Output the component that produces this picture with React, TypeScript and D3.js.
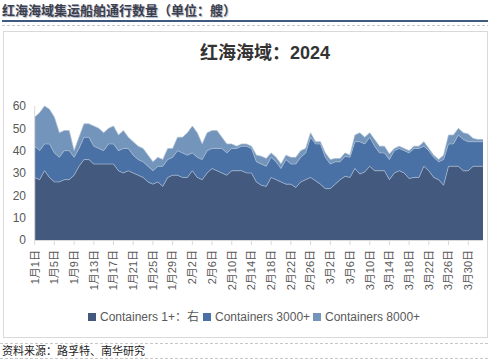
import React from "react";
import * as d3 from "d3";

const seriesNames = ["Containers 1+：右", "Containers 3000+", "Containers 8000+"];
const colors = ["#435a7e", "#4a71a5", "#7495bb"];

// Boundary levels (stacked totals)
const bottomLevel = [
  28, 27, 31, 28, 26, 26, 27, 27, 29, 33, 36, 36, 34, 34, 34, 34, 34, 31, 30, 31,
  30, 29, 28, 26, 25, 26, 24, 28, 29, 29, 28, 28, 31, 28, 27, 30, 32, 31, 30, 29,
  31, 31, 31, 30, 30, 26, 24.5, 24, 28, 27, 26, 25, 25, 23.5, 26, 27, 28, 26.5, 25,
  23, 23, 25, 27, 28.5, 28, 32, 29.5, 30.5, 33, 31, 31, 31, 27, 30, 31, 30, 27.5, 28, 28,
  33, 31, 28, 27, 24.5, 33, 33, 33, 31, 31, 33, 33, 33,
];
const middleLevel = [
  42, 40, 43, 43, 39, 37, 40, 40, 37, 41, 46, 46, 42, 41, 40, 43, 43, 40, 41, 41,
  38, 36, 35, 33, 31, 33, 33, 36, 37, 40, 39, 38, 39, 37, 36, 40, 41, 41, 41, 39,
  41, 41, 42, 42, 41, 35, 34, 33, 37, 35, 32, 36, 34, 34, 37, 39, 46, 43, 43,
  37, 34, 35, 35, 37.5, 37, 44, 44, 43, 46, 42, 39, 39, 36, 40, 41, 40, 39, 41, 41,
  42, 40, 37, 35, 36, 43, 43, 47, 45, 44, 44, 44, 44,
];
const topLevel = [
  55, 57, 60, 58.5, 55, 48, 49, 49, 40, 46, 52, 52, 51, 50, 48, 50, 51, 47, 49, 46,
  44, 42, 41, 38, 35, 37, 36, 41, 41, 46, 46, 48, 51, 48, 43, 48, 49, 49, 46, 43,
  43, 42, 43, 43, 42, 38, 37.5, 36.5, 39, 37, 34, 38, 37, 37, 40, 41, 48, 44, 44,
  39, 36, 36.5, 36.5, 39, 38, 47, 48, 46, 48, 45, 42, 42, 38.5, 41, 42, 41, 40, 42, 42,
  44, 41, 38, 36, 38, 47, 47, 50, 48, 47.5, 45.5, 45, 45,
];
const containers1 = bottomLevel;
const containers3000 = middleLevel.map((v, i) => v - bottomLevel[i]);
const containers8000 = topLevel.map((v, i) => v - middleLevel[i]);

// Daily categories (the source series has no Feb 29)
const categories = d3.timeDay
  .range(new Date(2024, 0, 1), new Date(2024, 3, 10))
  .filter((d) => !(d.getMonth() === 1 && d.getDate() === 29))
  .slice(0, bottomLevel.length)
  .map((d) => `${d.getMonth() + 1}月${d.getDate()}日`);
const yTicks = [0, 10, 20, 30, 40, 50, 60];

export default function App() {
  const W = 490, H = 361;
  const n = categories.length;
  const x = d3.scaleLinear().domain([0, n - 1]).range([34.7, 483]);
  const y = d3.scaleLinear().domain([0, 60]).range([240, 106]);
  const rows = categories.map((c, i) => ({ i, a: containers1[i], b: containers3000[i], c: containers8000[i] }));
  const layers = d3.stack<any>().keys(["a", "b", "c"])(rows);
  const area = d3.area<any>().x((d: any) => x(d.data.i)).y0((d: any) => y(d[0])).y1((d: any) => y(d[1]));
  const line = d3.line<any>().x((d: any) => x(d.data.i)).y((d: any) => y(d[1]));
  const tickIdx = d3.range(0, n, 4);
  const font = "'Liberation Sans', Arial, 'Noto Sans CJK SC', sans-serif";
  const legendX = [88, 203, 313];

  return (
    <svg width={W} height={H} style={{ position: "absolute", left: 0, top: 0, background: "#fff" }} fontFamily={font}>
      <text x={2} y={15} fontSize={13} fontWeight="bold" fill="#3b3f4f" style={{ textShadow: "1px 1px 1px #b0b4c0" }}>
        红海海域集运船舶通行数量（单位：艘）
      </text>
      <rect x={2} y={20} width={486} height={2} fill="#3f5a80" />
      <line x1={2} x2={488} y1={25.5} y2={25.5} stroke="#c8c8c8" strokeDasharray="3,2" />
      <rect x={3.5} y={31.5} width={484} height={306} fill="#fff" stroke="#d9d9d9" />
      <text x={265} y={59} textAnchor="middle" fontSize={18} fontWeight="bold" fill="#333">
        红海海域：2024
      </text>
      {layers.map((layer, i) => (
        <path key={i} d={area(layer) || ""} fill={colors[i]} />
      ))}
      {layers.map((layer, i) => (
        <path key={"l" + i} d={line(layer) || ""} fill="none" stroke="#a9bbd3" strokeWidth={0.7} />
      ))}
      <line x1={34.7} x2={34.7} y1={106} y2={240} stroke="#d9d9d9" />
      <line x1={34.7} x2={483} y1={240.5} y2={240.5} stroke="#d9d9d9" />
      {yTicks.map((t) => (
        <text key={t} x={26} y={y(t)} dy="0.35em" textAnchor="end" fontSize={12} fill="#595959">
          {t}
        </text>
      ))}
      {tickIdx.map((i) => (
        <g key={i} transform={`translate(${x(i)},0)`}>
          <line y1={240} y2={245} stroke="#d9d9d9" />
          <text transform="translate(0,250) rotate(-90)" textAnchor="end" dy="0.35em" fontSize={11} fill="#595959">
            {categories[i]}
          </text>
        </g>
      ))}
      {seriesNames.map((s, i) => (
        <g key={s} transform={`translate(${legendX[i]},317)`}>
          <rect x={0} y={-4} width={8} height={8} fill={colors[i]} />
          <text x={12} y={0} dy="0.35em" fontSize={12} fill="#595959">{s}</text>
        </g>
      ))}
      <line x1={0} x2={490} y1={343.5} y2={343.5} stroke="#c8c8c8" strokeDasharray="3,2" />
      <text x={2} y={355} fontSize={11} fill="#222">资料来源：路孚特、南华研究</text>
      <line x1={0} x2={490} y1={358.5} y2={358.5} stroke="#c8c8c8" strokeDasharray="3,2" />
    </svg>
  );
}
